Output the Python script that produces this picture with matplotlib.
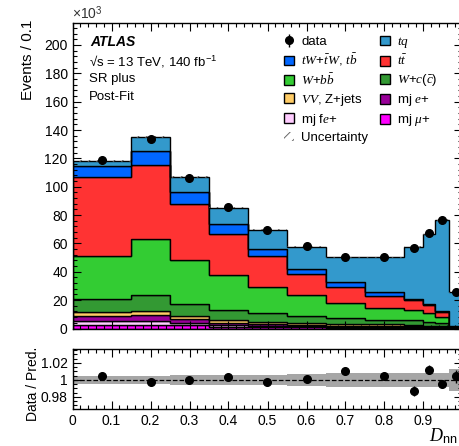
import numpy as np
import matplotlib
matplotlib.use("Agg")
import matplotlib.pyplot as plt
from matplotlib.patches import Patch
from matplotlib.ticker import MultipleLocator, FuncFormatter

plt.rcParams['font.family'] = ['Liberation Sans', 'DejaVu Sans']
plt.rcParams['mathtext.fontset'] = 'custom'
plt.rcParams['mathtext.rm'] = 'Liberation Sans'
plt.rcParams['mathtext.it'] = 'Liberation Serif:italic'
plt.rcParams['mathtext.bf'] = 'Liberation Sans:bold'
plt.rcParams['hatch.linewidth'] = 0.7

# bin edges of D_NN
edges = [0.0, 0.15, 0.25, 0.35, 0.45, 0.55, 0.65, 0.75, 0.85, 0.90, 0.93, 0.965, 1.0]

# post-fit yields per process, x10^3 events (bottom of stack first)
mj_mu = [2.4, 2.6, 2.4, 1.4, 1.0, 0.9, 0.7, 0.6, 0.5, 0.4, 0.3, 0.05]
mj_fe = [2.6, 2.4, 1.8, 1.3, 1.0, 0.8, 0.6, 0.5, 0.5, 0.4, 0.4, 0.05]
mj_e = [4.0, 4.2, 2.4, 1.3, 1.0, 0.9, 0.7, 0.7, 0.7, 0.6, 0.5, 0.1]
vv_zjets = [2.3, 3.4, 2.1, 2.3, 1.8, 1.4, 1.3, 1.2, 0.9, 0.6, 0.6, 0.1]
w_c = [9.2, 10.9, 8.5, 7.1, 6.0, 4.9, 4.0, 3.2, 3.1, 2.6, 2.2, 0.3]
w_bb = [30.9, 39.6, 31.3, 24.3, 18.6, 14.4, 10.4, 8.0, 7.3, 6.4, 4.0, 0.6]
ttbar = [55.3, 52.1, 39.1, 29.2, 21.5, 15.3, 11.5, 9.0, 7.4, 5.8, 3.5, 0.5]
tw_tb = [7.6, 9.7, 8.5, 7.1, 5.4, 3.6, 3.3, 2.3, 0.5, 0.8, 0.5, 0.3]
tq = [3.9, 9.9, 10.6, 11.3, 13.3, 15.5, 17.7, 24.7, 36.6, 48.8, 64.3, 23.7]

data = [119.0, 133.6, 106.2, 85.8, 69.3, 57.9, 50.6, 50.4, 57.0, 67.4, 76.3, 25.9]

# ratio panel
ratio = [1.004, 0.998, 1.000, 1.003, 0.997, 1.0015, 1.010, 1.005, 0.987, 1.012, 0.995, 1.004]
ratio_err = [0.002, 0.002, 0.002, 0.002, 0.002, 0.003, 0.003, 0.003, 0.006, 0.005, 0.004, 0.008]
unc_rel = [0.005, 0.005, 0.006, 0.006, 0.006, 0.0075, 0.0085, 0.0085, 0.0085, 0.0085, 0.0085, 0.013]

procs = [
    (mj_mu, '#ff00ff', r'mj $\mu$+'),
    (mj_fe, '#ffccff', r'mj f$e$+'),
    (mj_e, '#990099', r'mj $e$+'),
    (vv_zjets, '#ffcc66', r'$VV$, Z+jets'),
    (w_c, '#339933', r'$W$+$c(\bar{c})$'),
    (w_bb, '#33cc33', r'$W$+$b\bar{b}$'),
    (ttbar, '#ff3333', r'$t\bar{t}$'),
    (tw_tb, '#0066ff', r'$tW$+$\bar{t}W$, $t\bar{b}$'),
    (tq, '#3399cc', r'$tq$'),
]

edges = np.array(edges)
centers = 0.5 * (edges[1:] + edges[:-1])

W, H = 460, 446
fig = plt.figure(figsize=(W / 100, H / 100), dpi=100)
ax = fig.add_axes([72.5 / W, 1 - 328.5 / H, 390 / W, 305.5 / H])
rax = fig.add_axes([72.5 / W, 1 - 409 / H, 390 / W, 60 / H])

handles = {}
base = np.zeros(len(centers))
for vals, col, lab in procs:
    vals = np.array(vals)
    ax.stairs(base + vals, edges, baseline=base, fill=True, facecolor=col,
              edgecolor='black', linewidth=1.0)
    handles[lab] = Patch(facecolor=col, edgecolor='black', linewidth=1.0)
    base = base + vals
total = base

# hatched uncertainty on top of the stack
unc_abs = total * np.array(unc_rel)
ax.stairs(total + unc_abs, edges, baseline=total - unc_abs, fill=True,
          facecolor='none', edgecolor='#555555', hatch='////', linewidth=0)
unc_handle = Patch(facecolor='none', edgecolor='#666666', hatch='///', linewidth=0)

data = np.array(data)
derr = data * np.array(ratio_err)
dh = ax.errorbar(centers, data, yerr=derr, fmt='o', color='black', markersize=5.5,
                 elinewidth=1.0, capsize=0)

ax.set_xlim(0, 1)
ax.set_ylim(0, 215.5)
ax.yaxis.set_major_locator(MultipleLocator(20))
ax.yaxis.set_minor_locator(MultipleLocator(4))
ax.xaxis.set_major_locator(MultipleLocator(0.1))
ax.xaxis.set_minor_locator(MultipleLocator(0.02))
ax.tick_params(axis='x', labelbottom=False)

for a in (ax, rax):
    a.tick_params(which='both', direction='in', top=True, right=True, labelsize=10)
    a.tick_params(which='major', length=6, width=0.8)
    a.tick_params(which='minor', length=3, width=0.8)
    for s in a.spines.values():
        s.set_linewidth(1.0)

ax.text(0.0, 1.003, r'$\times$10$^{3}$', transform=ax.transAxes, ha='left', va='bottom',
        fontsize=10, color='#333333')

fig.text(28 / W, 1 - 20 / H, 'Events / 0.1', rotation=90, ha='center', va='top', fontsize=11)

fig.text(90 / W, 1 - 42 / H, 'ATLAS', fontsize=10, fontweight='bold', fontstyle='italic',
         va='center')
fig.text(89 / W, 1 - 61 / H, '\u221as = 13 TeV, 140 fb$^{-1}$', fontsize=9.5, va='center')
fig.text(89 / W, 1 - 79 / H, 'SR plus', fontsize=9.5, va='center')
fig.text(89 / W, 1 - 97 / H, 'Post-Fit', fontsize=9.5, va='center')

# legend: left column then right column
left_col = [(dh, 'data'),
            (handles[r'$tW$+$\bar{t}W$, $t\bar{b}$'], r'$tW$+$\bar{t}W$, $t\bar{b}$'),
            (handles[r'$W$+$b\bar{b}$'], r'$W$+$b\bar{b}$'),
            (handles[r'$VV$, Z+jets'], r'$VV$, Z+jets'),
            (handles[r'mj f$e$+'], r'mj f$e$+'),
            (unc_handle, 'Uncertainty')]
right_col = [(handles[r'$tq$'], r'$tq$'),
             (handles[r'$t\bar{t}$'], r'$t\bar{t}$'),
             (handles[r'$W$+$c(\bar{c})$'], r'$W$+$c(\bar{c})$'),
             (handles[r'mj $e$+'], r'mj $e$+'),
             (handles[r'mj $\mu$+'], r'mj $\mu$+')]
items = left_col + right_col
ax.legend([h for h, l in items], [l for h, l in items], ncol=2, loc='upper left',
          bbox_to_anchor=(284 / W, 1 - 35 / H), bbox_transform=fig.transFigure,
          frameon=False, fontsize=9.5, borderpad=0, borderaxespad=0,
          handlelength=0.75, handleheight=0.75, handletextpad=0.55,
          labelspacing=0.3, columnspacing=0.9)

# ratio panel
unc_rel = np.array(unc_rel)
rax.stairs(1 + unc_rel, edges, baseline=1 - unc_rel, fill=True, facecolor='#a6a6a6',
           edgecolor='none')
rax.axhline(1.0, color='black', linestyle='--', linewidth=0.9)
rax.errorbar(centers, ratio, yerr=ratio_err, fmt='o', color='black', markersize=5.5,
             elinewidth=1.0, capsize=0)
rax.set_xlim(0, 1)
rax.set_ylim(0.9655, 1.0365)
rax.yaxis.set_major_locator(MultipleLocator(0.02))
rax.yaxis.set_minor_locator(MultipleLocator(0.005))
rax.yaxis.set_major_formatter(FuncFormatter(lambda v, p: '%g' % round(v, 3)))
rax.xaxis.set_major_locator(MultipleLocator(0.1))
rax.xaxis.set_minor_locator(MultipleLocator(0.02))
# the label at 1.0 falls outside the picture
rax.xaxis.set_major_formatter(FuncFormatter(lambda v, p: '' if v > 0.95 else '%g' % round(v, 2)))

fig.text(33 / W, 1 - 384 / H, 'Data / Pred.', rotation=90, ha='center', va='center',
         fontsize=10)
fig.text(457 / W, 1 - 441 / H, r'$D_{\mathrm{nn}}$', fontsize=13, ha='right', va='baseline')

fig.savefig('out.png', dpi=100)
